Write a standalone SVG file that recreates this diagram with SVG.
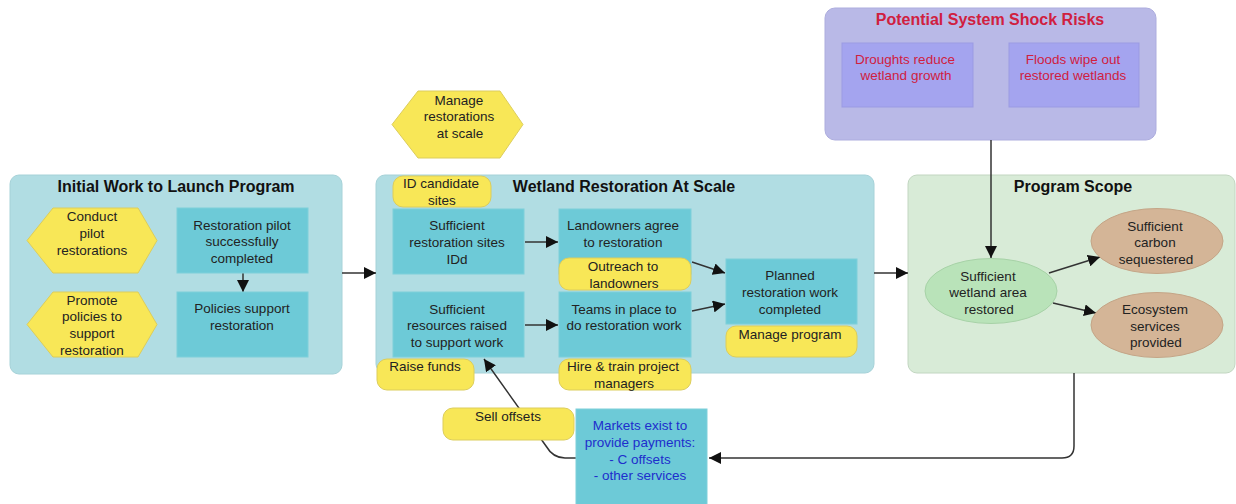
<svg xmlns="http://www.w3.org/2000/svg" width="1236" height="504" viewBox="0 0 1236 504">
  <style>
    text { font-family: "Liberation Sans", Arial, sans-serif; font-size: 13.5px; fill: #222; text-anchor: middle; }
    .title { font-size: 16px; font-weight: bold; fill: #111; }
    .red { fill: #d0203f; }
    .blue { fill: #1e2ecc; }
    .group { fill: #b1dde3; stroke: #a6d2d8; stroke-width: 1; }
    .scope { fill: #d8ebd7; stroke: #c2d6c1; stroke-width: 1; }
    .shock { fill: #b9b9e7; stroke: #adadde; stroke-width: 1; }
    .risk { fill: #a4a4ef; stroke: #9b9be3; stroke-width: 1; }
    .box { fill: #6dcad7; stroke: #7fd0da; stroke-width: 1; }
    .task { fill: #f8e757; stroke: #dccd5c; stroke-width: 1; }
    .goal { fill: #b9e3b9; stroke: #a7d2a7; stroke-width: 1; }
    .outcome { fill: #d4b597; stroke: #c4a587; stroke-width: 1; }
    .link { fill: none; stroke: #333; stroke-width: 1.5; }
  </style>
  <defs>
    <marker id="arrow" markerUnits="userSpaceOnUse" markerWidth="13" markerHeight="12" refX="12" refY="6" orient="auto">
      <path d="M0,0 L12,6 L0,12 z" fill="#111"/>
    </marker>
  </defs>

  <!-- containers -->
  <g id="initial-work">
    <rect class="group" x="10" y="175" width="332" height="199" rx="9"/>
    <text class="title" x="176" y="192">Initial Work to Launch Program</text>
  </g>
  <g id="wetland-restoration">
    <rect class="group" x="376" y="175" width="498" height="198" rx="9"/>
    <text class="title" x="624" y="192">Wetland Restoration At Scale</text>
  </g>
  <g id="program-scope">
    <rect class="scope" x="908" y="175" width="327" height="198" rx="9"/>
    <text class="title" x="1073" y="192">Program Scope</text>
  </g>
  <g id="shock-risks">
    <rect class="shock" x="825" y="8" width="331" height="132" rx="10"/>
    <text class="title red" x="990" y="25">Potential System Shock Risks</text>
  </g>

  <!-- connectors -->
  <g id="connectors">
    <line class="link" x1="243" y1="273" x2="243" y2="292" marker-end="url(#arrow)"/>
    <line class="link" x1="342" y1="273" x2="376" y2="273" marker-end="url(#arrow)"/>
    <line class="link" x1="874" y1="273" x2="908" y2="273" marker-end="url(#arrow)"/>
    <line class="link" x1="525" y1="242" x2="558" y2="242" marker-end="url(#arrow)"/>
    <line class="link" x1="525" y1="325" x2="558" y2="325" marker-end="url(#arrow)"/>
    <line class="link" x1="692" y1="262" x2="725" y2="273" marker-end="url(#arrow)"/>
    <line class="link" x1="692" y1="311" x2="725" y2="304" marker-end="url(#arrow)"/>
    <line class="link" x1="991" y1="140" x2="991" y2="258" marker-end="url(#arrow)"/>
    <line class="link" x1="1049" y1="273" x2="1100" y2="257" marker-end="url(#arrow)"/>
    <line class="link" x1="1053" y1="303" x2="1096" y2="313" marker-end="url(#arrow)"/>
    <path class="link" d="M1074,373 V446 Q1074,458 1062,458 H709" marker-end="url(#arrow)"/>
    <path class="link" d="M576,458 H565 Q553,458 546,446 L484,359" marker-end="url(#arrow)"/>
  </g>

  <!-- Initial Work nodes -->
  <g id="conduct-pilots">
    <polygon class="task" points="53,208 138,208 157,240.5 138,273 53,273 27,240.5"/>
    <text x="92" y="221">Conduct</text>
    <text x="92" y="238">pilot</text>
    <text x="92" y="255">restorations</text>
  </g>
  <g id="promote-policies">
    <polygon class="task" points="53,292 138,292 157,324.5 138,357 53,357 27,324.5"/>
    <text x="92" y="304.5">Promote</text>
    <text x="92" y="321">policies to</text>
    <text x="92" y="338">support</text>
    <text x="92" y="354.5">restoration</text>
  </g>
  <g id="pilot-completed">
    <rect class="box" x="177" y="208" width="131" height="65"/>
    <text x="242" y="229.5">Restoration pilot</text>
    <text x="242" y="246">successfully</text>
    <text x="242" y="263">completed</text>
  </g>
  <g id="policies-support">
    <rect class="box" x="177" y="292" width="131" height="65"/>
    <text x="242" y="313">Policies support</text>
    <text x="242" y="329.5">restoration</text>
  </g>

  <!-- Wetland Restoration nodes -->
  <g id="manage-at-scale">
    <polygon class="task" points="418,91 500,91 523,124.5 500,158 418,158 392,124.5"/>
    <text x="459" y="104.5">Manage</text>
    <text x="459" y="121">restorations</text>
    <text x="460" y="138">at scale</text>
  </g>
  <g id="sites-identified">
    <rect class="box" x="393" y="209" width="131" height="65"/>
    <text x="457" y="230">Sufficient</text>
    <text x="457" y="247">restoration sites</text>
    <text x="457" y="263.5">IDd</text>
  </g>
  <g id="id-candidate-sites">
    <rect class="task" x="393" y="176" width="98" height="31" rx="10"/>
    <text x="441" y="188">ID candidate</text>
    <text x="442" y="204.5">sites</text>
  </g>
  <g id="landowners-agree">
    <rect class="box" x="559" y="209" width="132" height="65"/>
    <text x="623" y="230">Landowners agree</text>
    <text x="623" y="247">to restoration</text>
  </g>
  <g id="outreach">
    <rect class="task" x="559" y="258" width="132" height="32" rx="10"/>
    <text x="623" y="271">Outreach to</text>
    <text x="624" y="288">landowners</text>
  </g>
  <g id="resources-raised">
    <rect class="box" x="393" y="292" width="131" height="65"/>
    <text x="457" y="313.5">Sufficient</text>
    <text x="457" y="330">resources raised</text>
    <text x="457" y="347">to support work</text>
  </g>
  <g id="raise-funds">
    <rect class="task" x="377" y="359" width="97" height="31" rx="10"/>
    <text x="425" y="371">Raise funds</text>
  </g>
  <g id="teams-in-place">
    <rect class="box" x="559" y="292" width="132" height="65"/>
    <text x="624" y="313.5">Teams in place to</text>
    <text x="624" y="330">do restoration work</text>
  </g>
  <g id="hire-train">
    <rect class="task" x="559" y="359" width="132" height="31" rx="10"/>
    <text x="623" y="371">Hire &amp; train project</text>
    <text x="624" y="388">managers</text>
  </g>
  <g id="work-completed">
    <rect class="box" x="726" y="259" width="131" height="65"/>
    <text x="790" y="280">Planned</text>
    <text x="790" y="297">restoration work</text>
    <text x="790" y="313.5">completed</text>
  </g>
  <g id="manage-program">
    <rect class="task" x="726" y="326" width="131" height="31" rx="10"/>
    <text x="790" y="338.5">Manage program</text>
  </g>

  <!-- Shock risk nodes -->
  <g id="droughts">
    <rect class="risk" x="842" y="43" width="131" height="64"/>
    <text class="red" x="905" y="64">Droughts reduce</text>
    <text class="red" x="906" y="80">wetland growth</text>
  </g>
  <g id="floods">
    <rect class="risk" x="1009" y="43" width="130" height="64"/>
    <text class="red" x="1073" y="64">Floods wipe out</text>
    <text class="red" x="1073" y="80">restored wetlands</text>
  </g>

  <!-- Program Scope nodes -->
  <g id="wetland-area">
    <ellipse class="goal" cx="991" cy="291" rx="66" ry="32.5"/>
    <text x="988" y="280.5">Sufficient</text>
    <text x="988" y="297">wetland area</text>
    <text x="989" y="313.5">restored</text>
  </g>
  <g id="carbon">
    <ellipse class="outcome" cx="1157" cy="241" rx="66" ry="32.5"/>
    <text x="1155" y="230.5">Sufficient</text>
    <text x="1155" y="247">carbon</text>
    <text x="1156" y="263.5">sequestered</text>
  </g>
  <g id="ecosystem">
    <ellipse class="outcome" cx="1157" cy="325" rx="66" ry="32.5"/>
    <text x="1155" y="314">Ecosystem</text>
    <text x="1155" y="330.5">services</text>
    <text x="1156" y="347">provided</text>
  </g>

  <!-- Markets -->
  <g id="sell-offsets">
    <rect class="task" x="443" y="408" width="131" height="32" rx="10"/>
    <text x="508" y="421">Sell offsets</text>
  </g>
  <g id="markets">
    <rect class="box" x="576" y="409" width="131" height="100"/>
    <text class="blue" x="640" y="430">Markets exist to</text>
    <text class="blue" x="640" y="447">provide payments:</text>
    <text class="blue" x="640" y="463.5">- C offsets</text>
    <text class="blue" x="640" y="480">- other services</text>
  </g>
</svg>
